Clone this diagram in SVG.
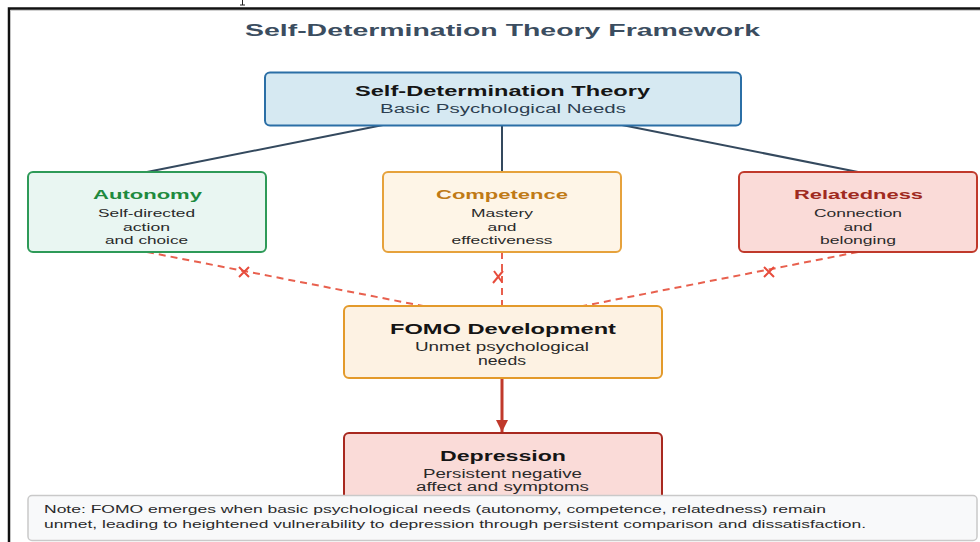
<svg xmlns="http://www.w3.org/2000/svg" width="980" height="542" viewBox="0 0 980 542">
  <style>
    text { font-family: "Liberation Sans", Arial, sans-serif; text-anchor: middle; }
    .title { font-size: 17px; font-weight: bold; fill: #3b4d60; }
    .head { font-size: 15.5px; font-weight: bold; fill: #151515; }
    .sub { font-size: 12.5px; fill: #2c3e50; }
    .ntitle { font-size: 13px; font-weight: bold; }
    .desc { font-size: 11.5px; fill: #2a2a2a; }
    .btitle { font-size: 14px; font-weight: bold; fill: #151515; }
    .bdesc { font-size: 12px; fill: #2a2a2a; }
    .note { font-size: 10.5px; fill: #2a2a2a; text-anchor: start; }
    .box { stroke-width: 2; }
    .tree { stroke: #34495e; stroke-width: 2; fill: none; }
    .unmet { stroke: #e8604e; stroke-width: 2; fill: none; stroke-dasharray: 7 5; }
    .cross { stroke: #e74c3c; stroke-width: 2; fill: none; }
  </style>
  <defs>
    <marker id="arrowRed" viewBox="0 0 10 10" refX="10" refY="5" markerWidth="5" markerHeight="4" markerUnits="strokeWidth" orient="auto">
      <path d="M0,0 L10,5 L0,10 Z" fill="#c0392b"/>
    </marker>
  </defs>

  <rect width="980" height="542" fill="#ffffff"/>

  <!-- page frame -->
  <g id="frame">
    <path d="M9,542 V8.5 H980" fill="none" stroke="#111111" stroke-width="2.5"/>
    <path d="M11,10.5 H980" fill="none" stroke="#d0d0d0" stroke-width="1"/>
    <path d="M242.5,0 V5 M240,5 H245" fill="none" stroke="#222222" stroke-width="1"/>
  </g>

  <text class="title" x="502.5" y="36" textLength="515" lengthAdjust="spacingAndGlyphs">Self-Determination Theory Framework</text>

  <!-- connectors -->
  <g id="connectors">
    <path class="tree" d="M383,125 L147,172"/>
    <path class="tree" d="M502,125 L502,172"/>
    <path class="tree" d="M622,125 L858,172"/>
    <path class="unmet" d="M147,252 L423,306"/>
    <path class="unmet" d="M502,252 L502,306" stroke-dasharray="5 4"/>
    <path class="unmet" d="M858,252 L583,306"/>
    <path class="cross" d="M239,267 L249,277 M249,267 L239,277"/>
    <path class="cross" d="M494,271 L502,282 M503,271 L493,283"/>
    <path class="cross" d="M764,267 L774,277 M774,267 L764,277"/>
    <path d="M502,378 L502,432" stroke="#c0392b" stroke-width="3" fill="none" marker-end="url(#arrowRed)"/>
  </g>

  <g id="sdt">
    <rect class="box" x="265" y="72.5" width="476" height="53" rx="5" fill="#d6e9f2" stroke="#2b6fa6" stroke-width="2.5"/>
    <text class="head" x="502.5" y="96" textLength="295" lengthAdjust="spacingAndGlyphs">Self-Determination Theory</text>
    <text class="sub" x="503" y="113" textLength="246" lengthAdjust="spacingAndGlyphs">Basic Psychological Needs</text>
  </g>

  <g id="autonomy">
    <rect class="box" x="28" y="172" width="238" height="80" rx="5" fill="#e9f6f2" stroke="#2e9a58"/>
    <text class="ntitle" x="147.5" y="198.5" fill="#1e8a3e" textLength="109" lengthAdjust="spacingAndGlyphs">Autonomy</text>
    <text class="desc" x="146.5" y="217" textLength="97" lengthAdjust="spacingAndGlyphs">Self-directed</text>
    <text class="desc" x="146.5" y="230.5" textLength="47" lengthAdjust="spacingAndGlyphs">action</text>
    <text class="desc" x="146.5" y="244" textLength="83" lengthAdjust="spacingAndGlyphs">and choice</text>
  </g>

  <g id="competence">
    <rect class="box" x="383" y="172" width="238" height="80" rx="5" fill="#fef5e7" stroke="#e6a23c"/>
    <text class="ntitle" x="502" y="198.5" fill="#c07a16" textLength="132" lengthAdjust="spacingAndGlyphs">Competence</text>
    <text class="desc" x="502" y="217" textLength="62" lengthAdjust="spacingAndGlyphs">Mastery</text>
    <text class="desc" x="502" y="230.5" textLength="29" lengthAdjust="spacingAndGlyphs">and</text>
    <text class="desc" x="502" y="244" textLength="101" lengthAdjust="spacingAndGlyphs">effectiveness</text>
  </g>

  <g id="relatedness">
    <rect class="box" x="739" y="172" width="238" height="80" rx="5" fill="#fadbd8" stroke="#c0392b"/>
    <text class="ntitle" x="858.5" y="198.5" fill="#a02a20" textLength="129" lengthAdjust="spacingAndGlyphs">Relatedness</text>
    <text class="desc" x="858" y="217" textLength="88" lengthAdjust="spacingAndGlyphs">Connection</text>
    <text class="desc" x="858" y="230.5" textLength="29" lengthAdjust="spacingAndGlyphs">and</text>
    <text class="desc" x="858" y="244" textLength="76" lengthAdjust="spacingAndGlyphs">belonging</text>
  </g>

  <g id="fomo">
    <rect class="box" x="344" y="306" width="318" height="72" rx="5" fill="#fdf2e3" stroke="#e39a2b" stroke-width="2.5"/>
    <text class="btitle" x="503" y="334" textLength="226" lengthAdjust="spacingAndGlyphs">FOMO Development</text>
    <text class="bdesc" x="502" y="351" textLength="174" lengthAdjust="spacingAndGlyphs">Unmet psychological</text>
    <text class="bdesc" x="502" y="364.5" textLength="48" lengthAdjust="spacingAndGlyphs">needs</text>
  </g>

  <g id="depression">
    <rect class="box" x="344" y="433" width="318" height="100" rx="5" fill="#fadbd8" stroke="#a8281f" stroke-width="2.5"/>
    <text class="btitle" x="503" y="460.5" textLength="126" lengthAdjust="spacingAndGlyphs">Depression</text>
    <text class="bdesc" x="502.5" y="477.5" textLength="159" lengthAdjust="spacingAndGlyphs">Persistent negative</text>
    <text class="bdesc" x="502.5" y="491" textLength="173" lengthAdjust="spacingAndGlyphs">affect and symptoms</text>
  </g>

  <g id="note">
    <rect x="28" y="495.5" width="949" height="45" rx="4" fill="#f8f9fa" stroke="#c9c9c9" stroke-width="1.5"/>
    <text class="note" x="44" y="513" textLength="782" lengthAdjust="spacingAndGlyphs">Note: FOMO emerges when basic psychological needs (autonomy, competence, relatedness) remain</text>
    <text class="note" x="44" y="527.5" textLength="822" lengthAdjust="spacingAndGlyphs">unmet, leading to heightened vulnerability to depression through persistent comparison and dissatisfaction.</text>
  </g>
</svg>
